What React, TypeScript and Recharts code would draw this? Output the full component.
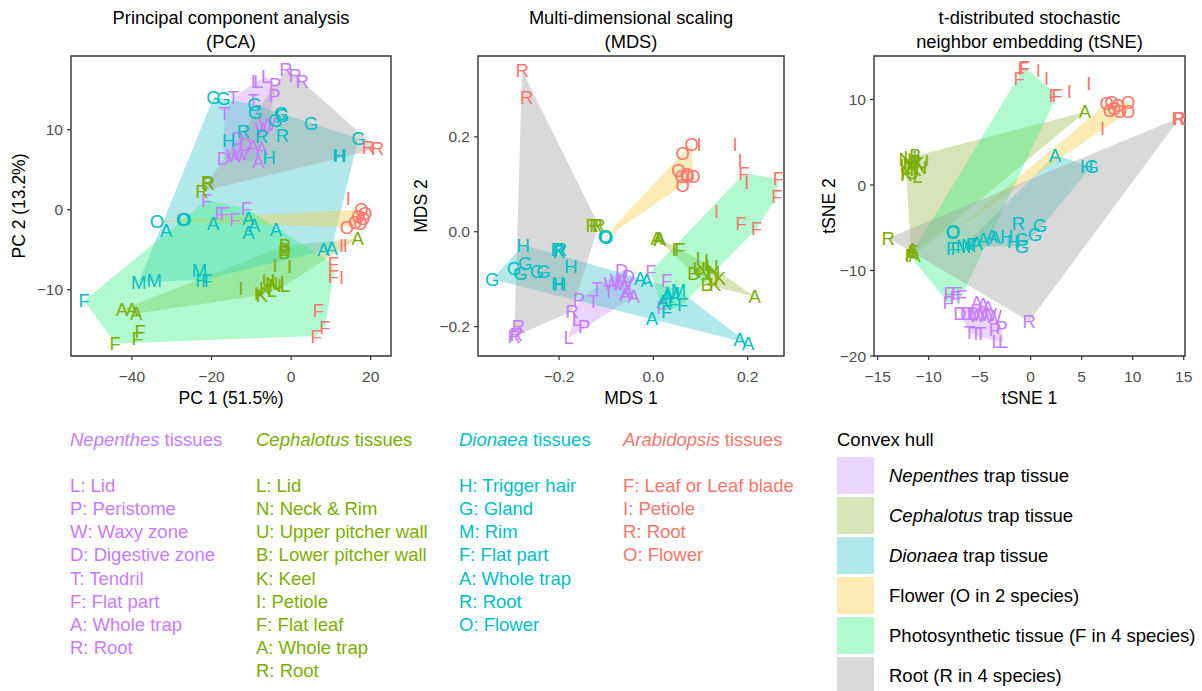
import React from 'react';
import { ScatterChart, Scatter, XAxis, YAxis, ReferenceArea } from 'recharts';

type Pt = [string, number, number];

const FONT = '"Liberation Sans", Arial, Helvetica, sans-serif';

// Species: Nepenthes, Cephalotus, Dionaea, Arabidopsis
const speciesNames = ['Nepenthes', 'Cephalotus', 'Dionaea', 'Arabidopsis'];
const speciesColors = ['#C77CFF', '#7CAE00', '#00BFC4', '#F8766D'];

const nepenthesTissues = ['L: Lid', 'P: Peristome', 'W: Waxy zone', 'D: Digestive zone', 'T: Tendril', 'F: Flat part', 'A: Whole trap', 'R: Root'];
const cephalotusTissues = ['L: Lid', 'N: Neck & Rim', 'U: Upper pitcher wall', 'B: Lower pitcher wall', 'K: Keel', 'I: Petiole', 'F: Flat leaf', 'A: Whole trap', 'R: Root'];
const dionaeaTissues = ['H: Trigger hair', 'G: Gland', 'M: Rim', 'F: Flat part', 'A: Whole trap', 'R: Root', 'O: Flower'];
const arabidopsisTissues = ['F: Leaf or Leaf blade', 'I: Petiole', 'R: Root', 'O: Flower'];

// Convex hull groups: [species index, letters] pairs
const hullLabels = ['trap tissue', 'trap tissue', 'trap tissue', 'Flower (O in 2 species)', 'Photosynthetic tissue (F in 4 species)', 'Root (R in 4 species)'];
const hullItalic = ['Nepenthes', 'Cephalotus', 'Dionaea', '', '', ''];
const hullColors = ['#CA98F7', '#9DBB4D', '#3FC6CB', '#FACD46', '#3CF084', '#A0A0A0'];
const HULL_OPACITY = 0.4;
const hullMembers: [number, string][][] = [
  [[0, 'LPWDTA']],
  [[1, 'LNUBKA']],
  [[2, 'HGMA']],
  [[2, 'O'], [3, 'O']],
  [[0, 'F'], [1, 'F'], [2, 'F'], [3, 'F']],
  [[0, 'R'], [1, 'R'], [2, 'R'], [3, 'R']],
];

// ---------- PCA ----------
const pcaNepenthes: Pt[] = [
  ['R', -1.3, 17.5], ['R', 1.0, 16.8], ['R', 2.8, 16.0],
  ['L', -8.8, 16.0], ['L', -8.2, 16.0], ['L', -6.3, 16.6],
  ['P', -4.0, 15.6], ['P', -4.2, 14.3],
  ['T', -14.5, 14.0], ['T', -9.5, 13.7], ['T', -16.7, 12.0],
  ['W', -7.0, 10.1], ['W', -6.0, 10.6], ['W', -14.1, 6.8], ['W', -12.8, 7.0],
  ['D', -13.4, 8.9], ['D', -11.5, 8.2], ['D', -17.0, 6.4],
  ['A', -9.5, 7.9], ['A', -7.4, 7.7], ['A', -8.2, 6.0],
  ['F', -21.2, 1.2], ['F', -17.8, -0.5], ['F', -16.6, -0.5], ['F', -14.1, -1.2], ['F', -11.2, 0.1],
];
const pcaCephalotus: Pt[] = [
  ['R', -20.8, 3.3], ['R', -21.0, 3.4], ['R', -22.4, 2.3],
  ['A', -42.5, -12.5], ['A', -40.0, -12.5], ['A', -38.9, -13.0], ['A', 16.7, -3.6],
  ['F', -37.9, -15.2], ['F', -38.7, -16.1], ['F', -44.2, -16.75],
  ['B', -1.5, -4.5], ['B', -1.75, -5.3], ['B', -1.6, -5.0],
  ['I', -4.0, -7.0], ['I', -0.4, -7.1], ['I', -12.6, -9.9],
  ['K', -7.35, -10.7], ['K', -6.5, -9.9], ['K', -7.8, -10.5],
  ['U', -5.7, -8.8], ['N', -4.85, -9.25], ['N', -4.0, -9.5], ['U', -3.4, -9.05],
  ['L', -1.5, -9.5], ['L', -4.85, -10.1],
];
const pcaDionaea: Pt[] = [
  ['G', -19.5, 14.0], ['G', -17.0, 13.9], ['G', -9.2, 13.1], ['G', -9.0, 12.2], ['G', -2.5, 12.0],
  ['G', -2.3, 11.8], ['G', -4.0, 11.2], ['G', 5.0, 10.8], ['G', 16.9, 8.9],
  ['H', -15.7, 8.7], ['H', -5.5, 6.5], ['H', 12.0, 6.8], ['H', 12.3, 6.8],
  ['R', -12.0, 9.75], ['R', -7.4, 9.1], ['R', -2.2, 9.25],
  ['M', -38.3, -9.05], ['M', -34.4, -8.8], ['M', -23.0, -7.6],
  ['H', -22.4, -8.8], ['F', -21.2, -8.8], ['F', -52.0, -11.4],
  ['O', -33.7, -1.5], ['O', -27.2, -1.2], ['O', -26.8, -1.2],
  ['A', -31.4, -2.6], ['A', -19.6, -1.75], ['A', -10.7, -1.1], ['A', -9.3, -2.0],
  ['A', -10.7, -2.8], ['A', -3.8, -2.5], ['A', 8.1, -5.0], ['A', 10.2, -4.9],
];
const pcaArabidopsis: Pt[] = [
  ['R', 19.4, 7.8], ['R', 21.7, 7.6],
  ['I', 14.4, 1.4],
  ['O', 17.7, 0.0], ['O', 18.6, -0.5], ['O', 16.9, -0.9], ['O', 18.1, -1.1],
  ['O', 16.1, -1.55], ['O', 17.4, -1.75], ['O', 14.0, -2.2],
  ['I', 12.7, -4.5], ['I', 13.6, -4.5],
  ['F', 10.6, -6.75], ['F', 10.6, -8.4], ['I', 12.7, -8.5],
  ['F', 6.85, -12.6], ['F', 8.5, -14.7], ['F', 6.3, -15.8],
];

// ---------- MDS ----------
const mdsNepenthes: Pt[] = [
  ['D', -0.067, -0.081], ['D', -0.053, -0.095], ['W', -0.088, -0.109], ['W', -0.074, -0.102], ['W', -0.062, -0.11],
  ['A', -0.060, -0.133], ['A', -0.042, -0.137], ['A', -0.055, -0.125],
  ['T', -0.120, -0.119], ['T', -0.095, -0.126], ['T', -0.127, -0.147],
  ['P', -0.158, -0.142], ['P', -0.147, -0.199],
  ['R', -0.173, -0.168], ['L', -0.162, -0.184], ['L', -0.180, -0.224],
  ['R', -0.286, -0.200], ['R', -0.291, -0.2175], ['R', -0.295, -0.221],
  ['F', -0.0055, -0.084], ['F', 0.028, -0.102], ['F', 0.018, -0.16],
];
const mdsCephalotus: Pt[] = [
  ['R', -0.130, 0.014], ['R', -0.122, 0.014], ['R', -0.116, 0.014],
  ['A', 0.007, -0.014], ['A', 0.012, -0.014], ['A', 0.014, -0.016],
  ['F', 0.051, -0.0385], ['F', 0.056, -0.0385],
  ['I', 0.095, -0.056], ['I', 0.113, -0.060], ['U', 0.124, -0.074], ['N', 0.106, -0.084],
  ['B', 0.085, -0.088], ['U', 0.097, -0.078], ['L', 0.118, -0.07], ['K', 0.141, -0.098],
  ['B', 0.113, -0.112], ['K', 0.131, -0.112], ['N', 0.128, -0.085],
  ['A', 0.215, -0.137],
];
const mdsDionaea: Pt[] = [
  ['O', -0.102, -0.0105], ['O', -0.100, -0.012], ['O', -0.103, -0.009],
  ['H', -0.276, -0.028], ['R', -0.204, -0.0385], ['R', -0.197, -0.0385], ['R', -0.200, -0.042],
  ['H', -0.175, -0.074],
  ['G', -0.272, -0.0665], ['G', -0.296, -0.077], ['G', -0.282, -0.0875], ['G', -0.247, -0.084],
  ['G', -0.233, -0.084], ['G', -0.342, -0.100],
  ['H', -0.203, -0.109], ['H', -0.199, -0.111],
  ['A', -0.028, -0.098], ['A', -0.014, -0.102],
  ['M', 0.040, -0.130], ['M', 0.053, -0.123], ['A', 0.028, -0.137], ['A', 0.020, -0.147],
  ['F', 0.042, -0.151], ['F', 0.062, -0.154], ['A', -0.003, -0.182], ['F', 0.028, -0.168],
  ['A', 0.183, -0.228], ['A', 0.201, -0.235],
];
const mdsArabidopsis: Pt[] = [
  ['R', -0.2785, 0.340], ['R', -0.269, 0.284],
  ['O', 0.081, 0.183], ['I', 0.097, 0.183], ['O', 0.062, 0.165],
  ['O', 0.053, 0.130], ['O', 0.071, 0.121], ['O', 0.085, 0.117], ['O', 0.060, 0.116],
  ['O', 0.062, 0.098], ['O', 0.073, 0.116],
  ['I', 0.173, 0.183], ['I', 0.184, 0.150], ['F', 0.192, 0.123], ['I', 0.198, 0.103],
  ['F', 0.265, 0.112], ['F', 0.262, 0.074], ['I', 0.134, 0.042], ['F', 0.186, 0.018], ['F', 0.219, 0.007],
];

// ---------- tSNE ----------
const tsneNepenthes: Pt[] = [
  ['F', -7.98, -12.7], ['F', -7.25, -12.7], ['F', -6.76, -13.0], ['F', -8.08, -13.8], ['F', -7.4, -13.2],
  ['A', -5.3, -13.8], ['A', -4.65, -14.0], ['A', -4.2, -14.3],
  ['D', -6.93, -15.0], ['D', -6.27, -15.0], ['D', -5.6, -15.0],
  ['W', -4.97, -15.2], ['W', -4.15, -15.2], ['W', -3.67, -15.4], ['W', -5.3, -15.3],
  ['T', -6.0, -17.3], ['T', -5.36, -17.4], ['T', -4.9, -17.4],
  ['P', -3.5, -16.9], ['P', -2.84, -16.7],
  ['L', -3.33, -18.3], ['L', -2.69, -18.3],
  ['R', -0.14, -15.95],
];
const tsneCephalotus: Pt[] = [
  ['N', -12.3, 3.0], ['U', -11.8, 3.2], ['B', -11.3, 3.4], ['K', -11.0, 2.5], ['L', -12.0, 2.0],
  ['I', -12.6, 2.3], ['B', -11.5, 2.6], ['N', -10.8, 2.0], ['U', -11.6, 1.5], ['K', -12.2, 1.2],
  ['L', -11.1, 1.0], ['I', -12.5, 1.5], ['U', -10.6, 2.8], ['N', -11.9, 2.5], ['K', -11.3, 1.8],
  ['R', -13.96, -6.2],
  ['A', -11.7, -8.0], ['F', -11.5, -7.8], ['A', -11.4, -8.2], ['F', -11.8, -8.3], ['A', -11.6, -7.6],
  ['A', 5.32, 8.55],
];
const tsneDionaea: Pt[] = [
  ['A', 2.38, 3.5], ['H', 5.49, 2.14], ['G', 5.98, 2.14],
  ['O', -7.65, -5.5], ['O', -7.6, -5.45],
  ['F', -7.75, -7.4], ['F', -7.3, -7.4], ['M', -6.6, -7.2], ['M', -6.1, -7.1], ['F', -5.8, -7.0],
  ['A', -5.3, -6.8], ['A', -4.65, -6.4], ['A', -3.8, -6.0], ['A', -3.5, -6.1], ['H', -2.35, -6.0],
  ['R', -1.2, -4.5], ['G', 0.9, -4.7], ['G', 0.42, -5.8], ['H', -1.7, -6.6], ['G', -0.88, -6.4], ['G', -0.88, -7.2],
];
const tsneArabidopsis: Pt[] = [
  ['F', -1.12, 12.45], ['F', -0.73, 13.6], ['F', -0.6, 13.8], ['I', 0.75, 13.4], ['I', 1.57, 12.45],
  ['F', 2.3, 10.5], ['F', 2.6, 10.5], ['I', 3.8, 10.9], ['I', 5.7, 11.9],
  ['O', 7.45, 9.5], ['O', 7.94, 9.7], ['O', 8.53, 9.3], ['O', 9.57, 9.7], ['O', 7.77, 8.75],
  ['O', 8.75, 8.55], ['O', 9.57, 8.55], ['O', 8.2, 9.0],
  ['I', 7.06, 6.6],
  ['R', 14.47, 7.8], ['R', 14.6, 7.8],
];

// ---------- axes ----------
const pcaXTicks = [-40, -20, 0, 20];
const pcaYTicks = [-10, 0, 10];
const mdsXTicks = [-0.2, 0, 0.2];
const mdsYTicks = [-0.2, 0, 0.2];
const tsneXTicks = [-15, -10, -5, 0, 5, 10, 15];
const tsneYTicks = [-20, -10, 0, 10];

const minus = (s: string) => s.replace('-', '\u2212');
const fmtInt = (v: number) => minus(String(v));
const fmtOne = (v: number) => minus(v.toFixed(1));

type Datum = { label: string; x: number; y: number };

function toData(pts: Pt[]): Datum[] {
  return pts.map(([label, x, y]) => ({ label, x, y }));
}

// Andrew's monotone chain, in data space (the linear scales keep hull membership)
function convexHull(points: Datum[]): Datum[] {
  const p = [...points].sort((a, b) => a.x - b.x || a.y - b.y);
  if (p.length < 3) return p;
  const cross = (o: Datum, a: Datum, b: Datum) => (a.x - o.x) * (b.y - o.y) - (a.y - o.y) * (b.x - o.x);
  const lower: Datum[] = [];
  for (const q of p) {
    while (lower.length >= 2 && cross(lower[lower.length - 2], lower[lower.length - 1], q) <= 0) lower.pop();
    lower.push(q);
  }
  const upper: Datum[] = [];
  for (let i = p.length - 1; i >= 0; i--) {
    const q = p[i];
    while (upper.length >= 2 && cross(upper[upper.length - 2], upper[upper.length - 1], q) <= 0) upper.pop();
    upper.push(q);
  }
  upper.pop();
  lower.pop();
  return lower.concat(upper);
}

const emptyShape = () => <g />;

const hullLine = (color: string) => (props: any) => {
  const pts: { x: number; y: number }[] = props.points || [];
  return (
    <polygon
      points={pts.map((q) => `${q.x},${q.y}`).join(' ')}
      fill={color}
      fillOpacity={HULL_OPACITY}
      stroke="none"
    />
  );
};

const letterShape = (color: string) => (props: any) => (
  <text
    x={props.cx}
    y={props.cy}
    textAnchor="middle"
    dominantBaseline="central"
    fill={color}
    fontSize={18.5}
    fontFamily={FONT}
  >
    {props.payload.label}
  </text>
);

type PanelProps = {
  left: number;
  width: number;
  yAxisWidth: number;
  rightMargin: number;
  xDomain: [number, number];
  yDomain: [number, number];
  xTicks: number[];
  yTicks: number[];
  xFmt: (v: number) => string;
  yFmt: (v: number) => string;
  series: Pt[][];
  title: string[];
  xLabel: string;
  yLabel: string;
  yLabelX: number;
};

const CHART_H = 400;
const TOP = 56;
const X_AXIS_H = 44;

function Panel(p: PanelProps) {
  const sets = p.series.map(toData);
  const hulls = hullMembers.map((members) => {
    const pts: Datum[] = [];
    members.forEach(([si, letters]) => {
      sets[si].forEach((d) => {
        if (letters.includes(d.label)) pts.push(d);
      });
    });
    return convexHull(pts);
  });
  const plotLeft = p.left + p.yAxisWidth;
  const plotRight = p.left + p.width - p.rightMargin;
  const cx = (plotLeft + plotRight) / 2;
  const plotMidY = TOP + (CHART_H - TOP - X_AXIS_H) / 2;
  return (
    <>
      <div
        style={{
          position: 'absolute', left: cx - 200, top: 6, width: 400, textAlign: 'center',
          fontFamily: FONT, fontSize: 18.3, lineHeight: '24px', color: '#000',
        }}
      >
        {p.title.map((t, i) => (
          <div key={i}>{t}</div>
        ))}
      </div>
      <div style={{ position: 'absolute', left: p.left, top: 0, width: p.width, height: CHART_H }}>
        <ScatterChart
          width={p.width}
          height={CHART_H}
          margin={{ top: TOP, right: p.rightMargin, bottom: 0, left: 0 }}
        >
          <XAxis
            type="number"
            dataKey="x"
            domain={p.xDomain}
            ticks={p.xTicks}
            interval={0}
            allowDataOverflow
            axisLine={false}
            tickLine={{ stroke: '#333', strokeWidth: 1.2 }}
            tickSize={4}
            tickMargin={11}
            height={X_AXIS_H}
            tick={{ fill: '#4D4D4D', fontSize: 15.5, fontFamily: FONT }}
            tickFormatter={p.xFmt}
          />
          <YAxis
            type="number"
            dataKey="y"
            domain={p.yDomain}
            ticks={p.yTicks}
            interval={0}
            allowDataOverflow
            axisLine={false}
            tickLine={{ stroke: '#333', strokeWidth: 1.2 }}
            tickSize={4}
            tickMargin={4}
            width={p.yAxisWidth}
            tick={{ fill: '#4D4D4D', fontSize: 15.5, fontFamily: FONT }}
            tickFormatter={p.yFmt}
          />
          {hulls.map((h, i) => (
            <Scatter
              key={`hull-${i}`}
              data={h}
              shape={emptyShape}
              line={hullLine(hullColors[i])}
              lineType="joint"
              isAnimationActive={false}
            />
          ))}
          {sets.map((s, i) => (
            <Scatter
              key={`sp-${i}`}
              name={speciesNames[i]}
              data={s}
              shape={letterShape(speciesColors[i])}
              isAnimationActive={false}
            />
          ))}
          <ReferenceArea
            x1={p.xDomain[0]}
            x2={p.xDomain[1]}
            y1={p.yDomain[0]}
            y2={p.yDomain[1]}
            fill="none"
            fillOpacity={0}
            stroke="#333"
            strokeWidth={1.4}
          />
        </ScatterChart>
      </div>
      <div
        style={{
          position: 'absolute', left: cx - 150, top: 387, width: 300, textAlign: 'center',
          fontFamily: FONT, fontSize: 17.5, lineHeight: '22px', color: '#000',
        }}
      >
        {p.xLabel}
      </div>
      <div
        style={{
          position: 'absolute', left: p.yLabelX - 150, top: plotMidY - 11, width: 300, textAlign: 'center',
          fontFamily: FONT, fontSize: 17.5, lineHeight: '22px', color: '#000',
          transform: 'rotate(-90deg)',
        }}
      >
        {p.yLabel}
      </div>
    </>
  );
}

const LEGEND_FS = 18.5;

function TissueColumn({ left, species, items }: { left: number; species: number; items: string[] }) {
  const color = speciesColors[species];
  return (
    <div style={{ position: 'absolute', left, top: 0, fontFamily: FONT, fontSize: LEGEND_FS, color, whiteSpace: 'nowrap' }}>
      <div style={{ position: 'absolute', left: 0, top: 429.5, lineHeight: '20px' }}>
        <i>{speciesNames[species]}</i> tissues
      </div>
      {items.map((t, i) => (
        <div key={i} style={{ position: 'absolute', left: 0, top: 476 + i * 23.14, lineHeight: '20px' }}>
          {t}
        </div>
      ))}
    </div>
  );
}

function HullLegend() {
  return (
    <div style={{ position: 'absolute', left: 0, top: 0, fontFamily: FONT, fontSize: LEGEND_FS, color: '#000', whiteSpace: 'nowrap' }}>
      <div style={{ position: 'absolute', left: 837, top: 430, lineHeight: '20px' }}>Convex hull</div>
      {hullLabels.map((label, i) => (
        <React.Fragment key={i}>
          <div
            style={{
              position: 'absolute', left: 837, top: 457.3 + i * 40, width: 37, height: 37,
              background: '#fff',
            }}
          >
            <div style={{ width: '100%', height: '100%', background: hullColors[i], opacity: HULL_OPACITY }} />
          </div>
          <div style={{ position: 'absolute', left: 889, top: 466 + i * 40, lineHeight: '20px' }}>
            {hullItalic[i] ? (
              <>
                <i>{hullItalic[i]}</i> {label}
              </>
            ) : (
              label
            )}
          </div>
        </React.Fragment>
      ))}
    </div>
  );
}

export default function App() {
  return (
    <div style={{ position: 'absolute', left: 0, top: 0, width: 1202, height: 691, background: '#fff', overflow: 'hidden' }}>
      <Panel
        left={0}
        width={400}
        yAxisWidth={71}
        rightMargin={9}
        xDomain={[-55.3, 25.1]}
        yDomain={[-18.3, 19.2]}
        xTicks={pcaXTicks}
        yTicks={pcaYTicks}
        xFmt={fmtInt}
        yFmt={fmtInt}
        series={[pcaNepenthes, pcaCephalotus, pcaDionaea, pcaArabidopsis]}
        title={['Principal component analysis', '(PCA)']}
        xLabel="PC 1 (51.5%)"
        yLabel="PC 2 (13.2%)"
        yLabelX={19}
      />
      <Panel
        left={410}
        width={380}
        yAxisWidth={68}
        rightMargin={6}
        xDomain={[-0.372, 0.277]}
        yDomain={[-0.262, 0.3705]}
        xTicks={mdsXTicks}
        yTicks={mdsYTicks}
        xFmt={fmtOne}
        yFmt={fmtOne}
        series={[mdsNepenthes, mdsCephalotus, mdsDionaea, mdsArabidopsis]}
        title={['Multi-dimensional scaling', '(MDS)']}
        xLabel="MDS 1"
        yLabel="MDS 2"
        yLabelX={421}
      />
      <Panel
        left={820}
        width={382}
        yAxisWidth={54}
        rightMargin={17}
        xDomain={[-15.36, 15.13]}
        yDomain={[-20, 15.09]}
        xTicks={tsneXTicks}
        yTicks={tsneYTicks}
        xFmt={fmtInt}
        yFmt={fmtInt}
        series={[tsneNepenthes, tsneCephalotus, tsneDionaea, tsneArabidopsis]}
        title={['t-distributed stochastic', 'neighbor embedding (tSNE)']}
        xLabel="tSNE 1"
        yLabel="tSNE 2"
        yLabelX={829}
      />
      <TissueColumn left={70} species={0} items={nepenthesTissues} />
      <TissueColumn left={256} species={1} items={cephalotusTissues} />
      <TissueColumn left={459} species={2} items={dionaeaTissues} />
      <TissueColumn left={623} species={3} items={arabidopsisTissues} />
      <HullLegend />
    </div>
  );
}
